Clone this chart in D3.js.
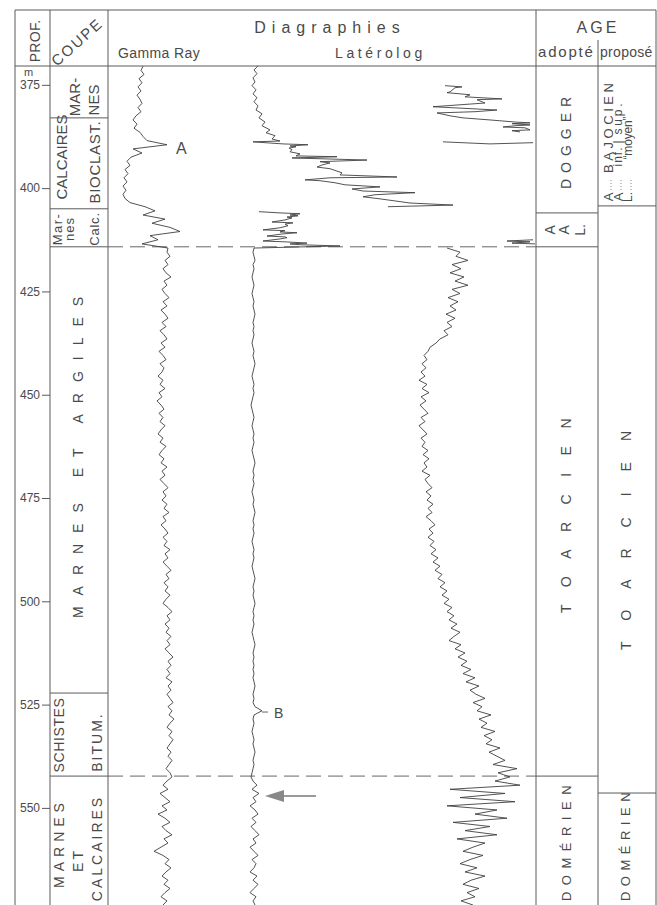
<!DOCTYPE html>
<html>
<head>
<meta charset="utf-8">
<script src="https://cdn.jsdelivr.net/npm/d3@7"></script>
<style>
body { margin: 0; background: #fff; }
svg { display: block; font-family: "Liberation Sans", Arial, sans-serif; }
</style>
</head>
<body>
<div id="chart"></div>
<script>
// ---- data ----
const depthTicks = [375, 400, 425, 450, 475, 500, 525, 550];
const depthTop = 370.2, depthBottom = 573.5;

// gamma ray, one sample per metre starting at 370.5 m
const gammaStart = 370.5;
const gammaValues = [
  33,31,34,29,32,28,31,27,30,32, 28,31,26,23,27,24,30,33,37,57,
  23,32,21,17,20,15,18,14,17,13, 16,13,15,20,35,45,33,55,42,60,
  70,40,48,32,58,
  57,60,55,58,53,56,61,54,57,52, 55,59,53,57,51,55,58,52,56,50,
  54,57,51,55,49,53,56,50,54,52, 48,53,50,55,49,52,47,51,54,49,
  53,50,55,51,48,53,50,56,52,49, 54,51,57,52,55,50,54,58,53,56,
  52,57,54,59,53,56,51,55,58,53, 57,54,60,55,58,53,57,61,56,59,
  54,58,55,60,56,53,58,62,57,60, 55,59,56,61,57,60,55,59,63,58,
  61,57,60,56,62,58,61,57,60,63, 58,62,59,64,60,57,62,59,63,60,
  57,61,58,62,59,56,60,62,57,53, 58,50,55,60,52,57,48,55,60,52,
  56,62,54,58,51,44,53,59,55,61, 56,52,58,54,60,55,51,57,53
];

// laterolog, upper sawtooth (Bajocien limestones)
const latUpperDepth = [370.4,371.4,372.3,373.3,374.3,375.2,376.2,377.2,378.1,379.1,380.1,381.1,382.0,383.0,384.0,384.9,385.9,386.6,387.3,388.1,388.6,388.8,389.3,389.5,389.8,390.0,390.3,390.7,391.2,391.7,392.2,392.4,392.7,393.2,393.6,393.9,394.4,394.9,395.3,395.8,396.3,396.8,397.3,397.5,398.0,398.2,398.7,399.2,399.7,400.2,400.7,401.1,401.6,402.1,402.6,403.1,403.6,404.1,404.5];
const latUpperValue = [23,19,22,18,20,17,21,18,22,19,23,21,27,24,30,27,35,31,40,37,45,18,48,73,55,61,54,57,55,65,61,102,57,132,85,95,87,82,95,101,107,105,162,95,70,85,100,110,145,117,128,180,140,128,145,160,175,218,153];

// laterolog, Aalenien cluster just above the dashed limit
const latAalDepth = [405.7,406.0,406.2,406.5,406.7,407.0,407.2,407.7,408.2,408.4,408.7,409.1,409.6,410.1,410.3,410.6,410.8,411.1,411.6,411.8,412.0,412.3,412.8,413.0,413.3,413.5,413.7,414.0];
const latAalValue = [24,45,65,55,63,52,57,50,37,58,50,53,45,28,50,45,62,47,32,50,52,45,28,50,72,55,65,105];

// laterolog, wrapped trace on the right (upper part)
const latWrapDepth = [375.2,375.5,375.7,376.7,376.9,377.4,377.9,378.4,378.6,379.4,380.3,381.1,381.5,381.8,382.5,383.0,383.5,384.0,384.2,384.4,384.7,384.9,385.2,385.4,385.9,386.1,386.4];
const latWrapValue = [210,227,220,215,212,235,230,267,242,250,198,262,240,202,215,228,255,280,295,277,295,280,268,290,295,277,285];
const latWrap2Depth = [388.8,389.3,389.0];
const latWrap2Value = [208,255,298];
const latWrap3Depth = [412.5,412.8,413.0,413.3,413.5];
const latWrap3Value = [298,272,295,277,300];

// laterolog below 414 m, one sample per metre from 414.5 m
const latLowStart = 414.5;
const latLowLeft = [
  19,18,19,20,18,19,18,17,18,19, 18,17,18,19,18,19,20,19,18,19,
  18,19,18,17,18,19,18,19,20,19, 18,17,18,19,18,19,18,17,16,17,
  18,19,18,17,18,19,18,19,18,17, 18,19,20,19,18,19,18,19,18,17,
  18,19,18,19,20,19,18,19,18,19, 18,17,18,19,18,19,18,17,18,19,
  20,19,18,19,18,19,20,19,18,19, 18,19,18,17,18,19,20,19,18,19,
  18,19,18,19,18,19,20,19,18,19, 18,20,27,19,18,19,18,17,18,19,
  18,19,20,19,18,19,18,17,16,18, 22,17,24,18,21,15,20,23,17,21,
  16,20,24,18,21,15,19,23,17,21, 19,15,22,18,23,19,15,21,18,20
];
const latLowRight = [
  212,225,221,233,217,226,215,229,220,233, 217,225,213,223,215,221,211,220,212,217,
  209,213,205,201,195,193,189,192,187,191, 186,190,184,192,187,194,186,191,185,189,
  193,186,190,184,188,192,186,190,187,193, 188,194,189,192,187,195,190,193,197,191,
  196,192,198,193,197,191,196,200,194,198, 193,199,195,201,196,203,198,205,200,207,
  203,210,205,212,207,214,209,217,212,219, 214,222,216,225,219,214,226,220,230,223,
  232,226,236,228,240,231,244,235,241,250, 238,247,242,256,244,252,246,260,249,257,
  251,265,254,262,270,258,282,263,275,260, 285,215,270,225,280,212,262,240,272,218,
  255,230,262,222,250,238,228,248,235,225, 242,230,250,236,228,244,232,240,226,238
];

// lithology (COUPE) and ages
const coupeBounds = [370.2, 383.0, 405.0, 414.2, 522.2, 542.3, 573.5];
const coupeLabels = [["MAR-","NES"], ["CALCAIRES","BIOCLAST."], ["Mar-","nes","Calc."],
  ["MARNES ET ARGILES"], ["SCHISTES","BITUM."], ["MARNES","ET","CALCAIRES"]];
const adopteBounds = [370.2, 406.0, 414.2, 542.3, 573.5];
const adopteLabels = ["DOGGER", "A|A|L.", "TOARCIEN", "DOMÉRIEN"];
const proposeBounds = [370.2, 404.3, 546.4, 573.5];
const proposeLabels = ["BAJOCIEN", "TOARCIEN", "DOMÉRIEN"];
const limitDepths = [414.2, 542.3];

// ---- layout ----
const W = 657, H = 905;
const X = { left: 15, prof: 50, coupe: 108, age: 536, prop: 598, right: 656 };
const headTop = 10, headBottom = 66;
const ink = "#404040", frame = "#5a5a5a", txt = "#4a4a4a";

const svg = d3.select("#chart").append("svg").attr("width", W).attr("height", H);

const y = d3.scaleLinear().domain([depthTop, depthBottom]).range([65, 905]);
const xGamma = d3.scaleLinear().domain([0, 100]).range([110, 210]);
const xLat = d3.scaleLinear().domain([0, 300]).range([235, 535]);

// frame
const fr = svg.append("g").attr("stroke", frame).attr("stroke-width", 1).attr("fill", "none");
fr.append("line").attr("x1", X.left).attr("x2", X.right).attr("y1", headTop).attr("y2", headTop);
fr.append("line").attr("x1", X.left).attr("x2", X.right).attr("y1", headBottom).attr("y2", headBottom);
[X.left, X.prof, X.coupe, X.age, X.right].forEach(x =>
  fr.append("line").attr("x1", x).attr("x2", x).attr("y1", headTop).attr("y2", H));
fr.append("line").attr("x1", X.prop).attr("x2", X.prop).attr("y1", 40).attr("y2", H);

// cell boundaries
coupeBounds.slice(1, -1).forEach(d =>
  fr.append("line").attr("x1", X.prof).attr("x2", X.coupe).attr("y1", y(d)).attr("y2", y(d)));
adopteBounds.slice(1, -1).forEach(d =>
  fr.append("line").attr("x1", X.age).attr("x2", X.prop).attr("y1", y(d)).attr("y2", y(d)));
proposeBounds.slice(1, -1).forEach(d =>
  fr.append("line").attr("x1", X.prop).attr("x2", X.right).attr("y1", y(d)).attr("y2", y(d)));

// dashed limits across the logs
limitDepths.forEach(d =>
  svg.append("line").attr("x1", X.coupe).attr("x2", X.age).attr("y1", y(d)).attr("y2", y(d))
    .attr("stroke", "#666").attr("stroke-dasharray", "15,7").attr("stroke-width", 1));

// depth axis
const ax = svg.append("g").attr("transform", `translate(${X.prof},0)`)
  .call(d3.axisLeft(y).tickValues(depthTicks).tickSize(8).tickPadding(2));
ax.select(".domain").remove();
ax.selectAll("line").attr("stroke", frame);
ax.selectAll("text").attr("fill", txt).attr("font-size", 12).attr("font-family", "Liberation Sans, Arial");
svg.append("text").attr("x", 24).attr("y", 76).attr("fill", txt).attr("font-size", 11).text("m");

// rotated text helper (len = forced visual length)
function vtext(x, yc, s, size, spacing, len) {
  const t = svg.append("text")
    .attr("transform", `translate(${x},${yc}) rotate(-90)`)
    .attr("text-anchor", "middle").attr("dy", "0.35em")
    .attr("font-size", size).attr("letter-spacing", spacing || 0)
    .attr("fill", txt).text(s);
  if (len) t.attr("textLength", len).attr("lengthAdjust", "spacing").attr("letter-spacing", 0);
  return t;
}

// header
vtext(35, 41, "PROF.", 14, 0.3);
svg.append("text").attr("transform", "translate(77,42) rotate(-42)")
  .attr("text-anchor", "middle").attr("dy", "0.35em").attr("font-size", 15)
  .attr("letter-spacing", 2).attr("fill", txt).text("COUPE");
svg.append("text").attr("x", 330).attr("y", 33).attr("text-anchor", "middle")
  .attr("font-size", 16).attr("letter-spacing", 6).attr("fill", txt).text("Diagraphies");
svg.append("text").attr("x", 118).attr("y", 58).attr("font-size", 14)
  .attr("letter-spacing", 0.4).attr("fill", txt).text("Gamma Ray");
svg.append("text").attr("x", 335).attr("y", 58).attr("font-size", 14)
  .attr("letter-spacing", 3.6).attr("fill", txt).text("Latérolog");
svg.append("text").attr("x", 598).attr("y", 33).attr("text-anchor", "middle")
  .attr("font-size", 16).attr("letter-spacing", 3).attr("fill", txt).text("AGE");
svg.append("text").attr("x", 538).attr("y", 57)
  .attr("font-size", 15).attr("letter-spacing", 1.8).attr("fill", txt).text("adopté");
svg.append("text").attr("x", 600).attr("y", 57)
  .attr("font-size", 14).attr("letter-spacing", 0.3).attr("fill", txt).text("proposé");

// coupe labels
const mid = (b, i) => (y(b[i]) + y(b[i + 1])) / 2;
vtext(75, 97, coupeLabels[0][0], 15);
vtext(94, 100, coupeLabels[0][1], 15);
vtext(62, 157, coupeLabels[1][0], 15);
vtext(95, 162, coupeLabels[1][1], 15, 0.7);
vtext(57, 229, coupeLabels[2][0], 13, 1.5);
vtext(69, 229, coupeLabels[2][1], 13, 1);
vtext(94, 229, coupeLabels[2][2], 13, 0.8);
vtext(78, 452, coupeLabels[3][0], 14, 11);
vtext(59, 735, coupeLabels[4][0], 14, 0.6);
vtext(97, 742, coupeLabels[4][1], 14, 2);
vtext(59, 843, coupeLabels[5][0], 14, 5);
vtext(78, 860, coupeLabels[5][1], 14, 3);
vtext(97, 848, coupeLabels[5][2], 14, 3);

// age adopté
vtext(566, 140, adopteLabels[0], 14, 6);
adopteLabels[1].split("|").forEach((s, i) => vtext([550, 564, 580][i], mid(adopteBounds, 1), s, 14));
vtext(566, 507, adopteLabels[2], 14, 17.5);
vtext(566, 840, adopteLabels[3], 13, 6.5);

// age proposé
vtext(608, 128, proposeLabels[0], 13, 0, 90);
vtext(608, 197, "A", 13);
vtext(618, 197, "A", 13);
vtext(628, 197, "L.", 12);
vtext(618, 157, "inf.", 12, 0, 19);
vtext(618, 142, "|", 12);
vtext(618, 119, "sup.", 12, 0, 31);
vtext(628, 138, "“moyen”", 12, 0, 43);
[608, 618, 628].forEach(x => svg.append("line").attr("x1", x + 3).attr("x2", x + 3)
  .attr("y1", 180).attr("y2", 190).attr("stroke", "#888").attr("stroke-dasharray", "1,2"));
vtext(626, 530, proposeLabels[1], 14, 21);
vtext(625, 844, proposeLabels[2], 13, 5.5);

// ---- log curves ----
const logs = svg.append("g").attr("fill", "none").attr("stroke", ink)
  .attr("stroke-width", 0.9).attr("stroke-linejoin", "round");

const gammaPts = gammaValues.map((v, i) => [gammaStart + i, v]);
logs.append("path").datum(gammaPts)
  .attr("d", d3.line().x(d => xGamma(d[1])).y(d => y(d[0])));

const latLine = d3.line().x(d => xLat(d[1])).y(d => y(d[0]));
const zip = (a, b) => a.map((d, i) => [d, b[i]]);
logs.append("path").datum(zip(latUpperDepth, latUpperValue)).attr("d", latLine);
const lowLeft = latLowLeft.map((v, i) => [latLowStart + i, v]);
logs.append("path").datum(zip(latAalDepth, latAalValue).concat(lowLeft)).attr("d", latLine);
logs.append("path").datum(zip(latWrapDepth, latWrapValue)).attr("d", latLine);
logs.append("path").datum(zip(latWrap2Depth, latWrap2Value)).attr("d", latLine);
logs.append("path").datum(zip(latWrap3Depth, latWrap3Value)).attr("d", latLine);
logs.append("path").datum(latLowRight.map((v, i) => [latLowStart + i, v])).attr("d", latLine);

// markers A, B and arrow
svg.append("text").attr("x", 176).attr("y", 154).attr("font-size", 16).attr("fill", txt).text("A");
svg.append("text").attr("x", 274).attr("y", 718).attr("font-size", 14).attr("fill", txt).text("B");
svg.append("line").attr("x1", 268).attr("x2", 262).attr("y1", y(526.8)).attr("y2", y(526.8))
  .attr("stroke", ink).attr("stroke-width", 0.8);
const ay = 796;
svg.append("line").attr("x1", 280).attr("x2", 316).attr("y1", ay).attr("y2", ay)
  .attr("stroke", "#777").attr("stroke-width", 1.5);
svg.append("path").attr("d", `M265,${ay} L284,${ay - 6} L284,${ay + 6} Z`).attr("fill", "#888");
</script>
</body>
</html>
